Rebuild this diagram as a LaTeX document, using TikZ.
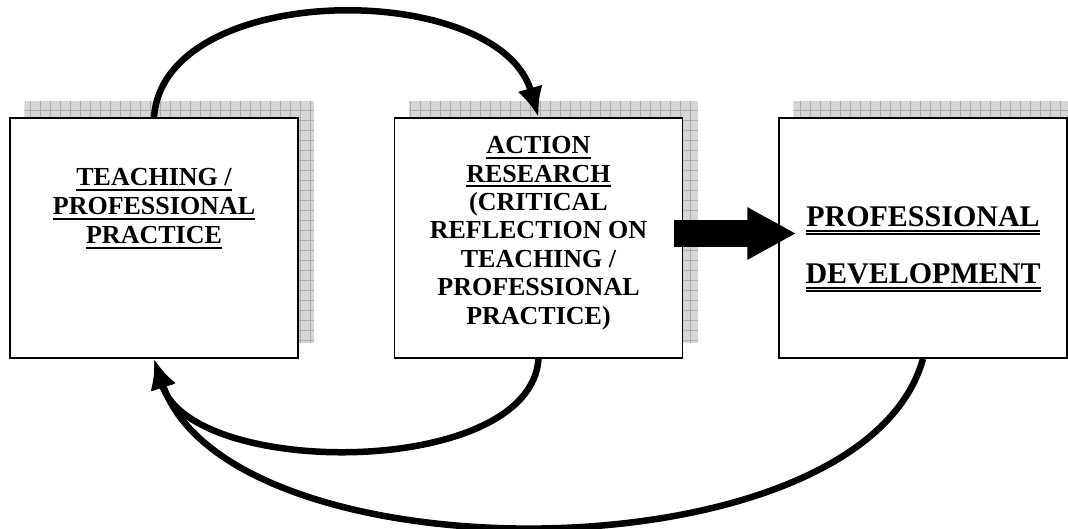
\documentclass[tikz,border=0pt]{standalone}
\usepackage{fontspec}
\setmainfont{Liberation Serif}
\usetikzlibrary{positioning, arrows.meta, backgrounds}
\newcommand\uln[1]{\setbox0\hbox{#1}\rlap{\vrule height -3.2pt depth 5.4pt width \wd0}\box0}
\newcommand\dbl[1]{\setbox0\hbox{#1}\rlap{\vrule height -3.6pt depth 5.2pt width \wd0}\rlap{\vrule height -6.6pt depth 8.2pt width \wd0}\box0}
\tikzstyle{boxnode} = [rectangle, draw=black, line width=1.5pt, fill=white, minimum width=288pt, minimum height=240pt]
\tikzstyle{arc} = [line width=6.5pt, -{Latex[length=30pt,width=26pt]}]
\begin{document}
\begin{tikzpicture}[x=1pt, y=-1pt,
boxtext/.style={align=center, inner sep=0pt, font=\fontsize{26}{29}\selectfont\bfseries},
bigtext/.style={align=center, inner sep=0pt, font=\fontsize{30}{57}\selectfont\bfseries}
]
\useasboundingbox (0,0) rectangle (1068,529);
\node[boxnode] (teach) at (154,238) {};
\node[boxnode] (action) [right=95pt of teach] {};
\node[boxnode] (dev) [right=95pt of action] {};

\node[boxtext] (teachtxt) [below=51pt of teach.north] {\uln{TEACHING /}\\ \uln{PROFESSIONAL}\\ \uln{PRACTICE}};
\node[boxtext, font=\fontsize{26}{28.4}\selectfont\bfseries] (actiontxt) [below=19pt of action.north] {\uln{ACTION}\\ \uln{RESEARCH}\\ (CRITICAL\\ REFLECTION ON\\ TEACHING /\\ PROFESSIONAL\\ PRACTICE)};
\node[bigtext] (devtxt) [below=89pt of dev.north] {\dbl{PROFESSIONAL}\\ \dbl{DEVELOPMENT}};

% gridded shadows behind the boxes
\begin{scope}[on background layer]
\foreach \n in {teach,action,dev}{
  \begin{scope}
    \clip ([shift={(15pt,16pt)}]\n.south west) rectangle ([shift={(15pt,16pt)}]\n.north east);
    \fill[gray!32] ([shift={(15pt,16pt)}]\n.south west) rectangle ([shift={(15pt,16pt)}]\n.north east);
    \draw[gray!65, line width=0.5pt, step=10pt] ([shift={(15pt,16pt)}]\n.south west) grid ([shift={(15pt,16pt)}]\n.north east);
  \end{scope}
}
\end{scope}

\draw[arc] (teach.north) .. controls +(10,-138) and +(-40,-138) .. (action.north);
\draw[arc] (action.south) .. controls +(-8,120) and +(37,120) .. (teach.south);
\draw[arc] (dev.south) .. controls +(-61,222) and +(75,222) .. (teach.south);
\draw[line width=27pt, -{Triangle[length=49pt,width=49pt]}] ([xshift=-9pt, yshift=4.5pt]action.east) -- ([xshift=18pt, yshift=4.5pt]dev.west);
\end{tikzpicture}
\end{document}
